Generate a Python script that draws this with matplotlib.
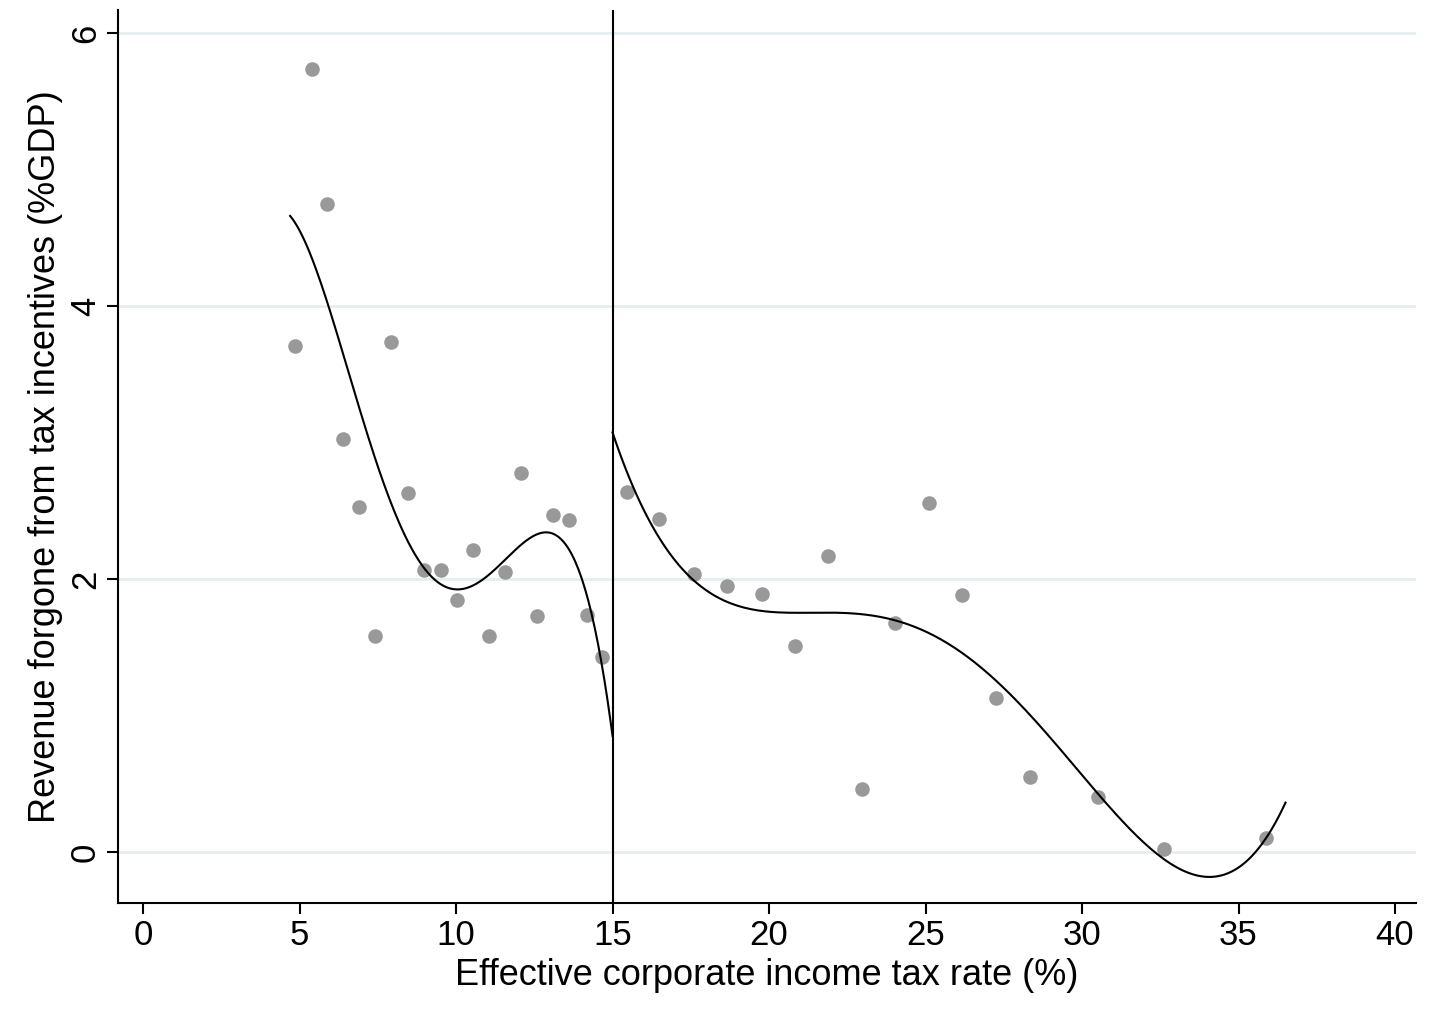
import numpy as np
import matplotlib.pyplot as plt

plt.rcParams['font.family'] = ['Liberation Sans', 'DejaVu Sans']

# Left of threshold (rate < 15%)
x_low = [4.86, 5.40, 5.88, 6.39, 6.90, 7.41, 7.92, 8.46, 8.97, 9.51,
         10.02, 10.53, 11.04, 11.55, 12.07, 12.58, 13.09, 13.60, 14.17, 14.65]
y_low = [3.71, 5.74, 4.75, 3.03, 2.53, 1.58, 3.74, 2.63, 2.07, 2.07,
         1.85, 2.21, 1.58, 2.05, 2.78, 1.73, 2.47, 2.43, 1.74, 1.43]
# Right of threshold
x_high = [15.45, 16.50, 17.60, 18.66, 19.78, 20.83, 21.88, 22.97, 24.03, 25.11,
          26.17, 27.25, 28.34, 30.51, 32.62, 35.88]
y_high = [2.64, 2.44, 2.04, 1.95, 1.89, 1.51, 2.17, 0.46, 1.68, 2.56,
          1.88, 1.13, 0.55, 0.40, 0.02, 0.10]

fig = plt.figure(figsize=(14.37, 10.17), dpi=100)
ax = fig.add_axes([0.0821, 0.1121, 0.9033, 0.878])

for y in [0, 2, 4, 6]:
    ax.axhline(y, color='#e6eef0', lw=2, zorder=0)

ax.scatter(x_low, y_low, s=110, color='#999999', zorder=2, linewidths=0)
ax.scatter(x_high, y_high, s=110, color='#999999', zorder=2, linewidths=0)

# polynomial fit lines on each side
for xs, ys, lo, hi in [(x_low, y_low, 4.7, 15.0), (x_high, y_high, 15.0, 36.5)]:
    c = np.polyfit(xs, ys, 4)
    xx = np.linspace(lo, hi, 200)
    ax.plot(xx, np.polyval(c, xx), color='black', lw=1.5, zorder=3)

ax.axvline(15, color='black', lw=1.5, zorder=3)

ax.set_xlim(-0.8, 40.67)
ax.set_ylim(-0.374, 6.17)
ax.set_xticks(range(0, 41, 5))
ax.set_yticks([0, 2, 4, 6])
ax.set_yticklabels(['0', '2', '4', '6'], rotation=90, va='center')
for s in ['top', 'right']:
    ax.spines[s].set_visible(False)
for s in ['left', 'bottom']:
    ax.spines[s].set_linewidth(1.5)
ax.tick_params(labelsize=25, length=8, width=1.5)
ax.set_xlabel('Effective corporate income tax rate (%)', fontsize=26)
ax.set_ylabel('Revenue forgone from tax incentives (%GDP)', fontsize=26)

fig.savefig('out.png', dpi=100)
